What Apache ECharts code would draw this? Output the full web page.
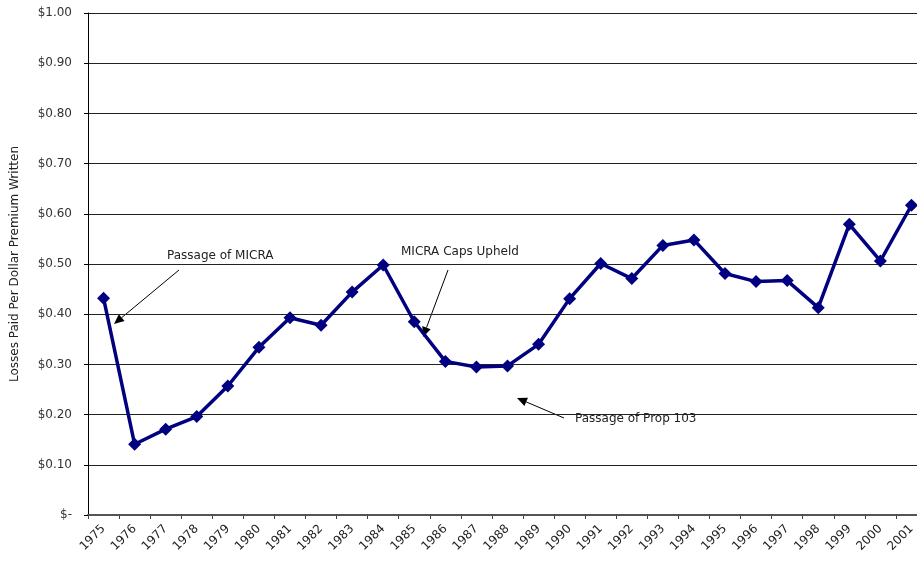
<!DOCTYPE html>
<html>
<head>
<meta charset="utf-8">
<script src="https://cdn.jsdelivr.net/npm/echarts@6/dist/echarts.min.js"></script>
<style>
  html, body { margin: 0; padding: 0; background: #fff; }
  #main { width: 917px; height: 567px; }
</style>
</head>
<body>
<div id="main"></div>
<script>
var years = ['1975', '1976', '1977', '1978', '1979', '1980', '1981', '1982', '1983',
  '1984', '1985', '1986', '1987', '1988', '1989', '1990', '1991', '1992', '1993',
  '1994', '1995', '1996', '1997', '1998', '1999', '2000', '2001']
var lossRatio = [0.432, 0.141, 0.171, 0.196, 0.257, 0.334, 0.393, 0.378, 0.444,
  0.498, 0.385, 0.306, 0.295, 0.297, 0.340, 0.431, 0.501, 0.471, 0.537,
  0.548, 0.481, 0.465, 0.467, 0.413, 0.579, 0.506, 0.617]
var notes = ['Passage of MICRA', 'MICRA Caps Upheld', 'Passage of Prop 103']

var font = '"DejaVu Sans", Verdana, sans-serif'
var chart = echarts.init(document.getElementById('main'))

// arrow with a filled head, coordinates in pixels
function arrow(x1, y1, x2, y2) {
  var ang = Math.atan2(y2 - y1, x2 - x1)
  var hl = 10, hw = 4.5
  var bx = x2 - hl * Math.cos(ang), by = y2 - hl * Math.sin(ang)
  var px = -Math.sin(ang) * hw, py = Math.cos(ang) * hw
  return [
    { type: 'line', shape: { x1: x1, y1: y1, x2: bx, y2: by }, style: { stroke: '#000', lineWidth: 1 } },
    { type: 'polygon', shape: { points: [[x2, y2], [bx + px, by + py], [bx - px, by - py]] }, style: { fill: '#000' } }
  ]
}

function label(txt, x, y) {
  return { type: 'text', x: x, y: y, style: { text: txt, fill: '#222', font: '12px ' + font, textVerticalAlign: 'middle' } }
}

var graphics = [].concat(
  label(notes[0], 167, 256), arrow(179, 270, 114, 324),
  label(notes[1], 401, 252), arrow(448, 270, 423, 337),
  label(notes[2], 575, 419), arrow(564, 418, 517, 398)
)

chart.setOption({
  animation: false,
  backgroundColor: '#fff',
  grid: { left: 88, right: -10, top: 13, bottom: 52, containLabel: false, outerBoundsMode: 'none' },
  xAxis: {
    type: 'category',
    data: years,
    boundaryGap: true,
    axisLine: { lineStyle: { color: '#555', width: 2 } },
    axisTick: { show: true, length: 4, lineStyle: { color: '#444' } },
    axisLabel: { rotate: 45, margin: 12, color: '#222', fontSize: 12, fontFamily: font, interval: 0 },
    splitLine: { show: false }
  },
  yAxis: {
    type: 'value',
    min: 0,
    max: 1,
    interval: 0.1,
    name: 'Losses Paid Per Dollar Premium Written',
    nameLocation: 'middle',
    nameGap: 67,
    nameTextStyle: { color: '#222', fontSize: 12, fontFamily: font },
    axisLine: { show: true, lineStyle: { color: '#000', width: 1 } },
    axisTick: { show: true, length: 4, lineStyle: { color: '#000' } },
    axisLabel: {
      color: '#333', fontSize: 12, fontFamily: font, margin: 16,
      formatter: function (v) { return v === 0 ? '$-' : '$' + v.toFixed(2) }
    },
    splitLine: { lineStyle: { color: '#222', width: 1 } }
  },
  series: [{
    type: 'line',
    data: lossRatio,
    symbol: 'diamond',
    symbolSize: 13,
    lineStyle: { color: '#000080', width: 3.5 },
    itemStyle: { color: '#000080' }
  }],
  graphic: graphics
})
</script>
</body>
</html>
